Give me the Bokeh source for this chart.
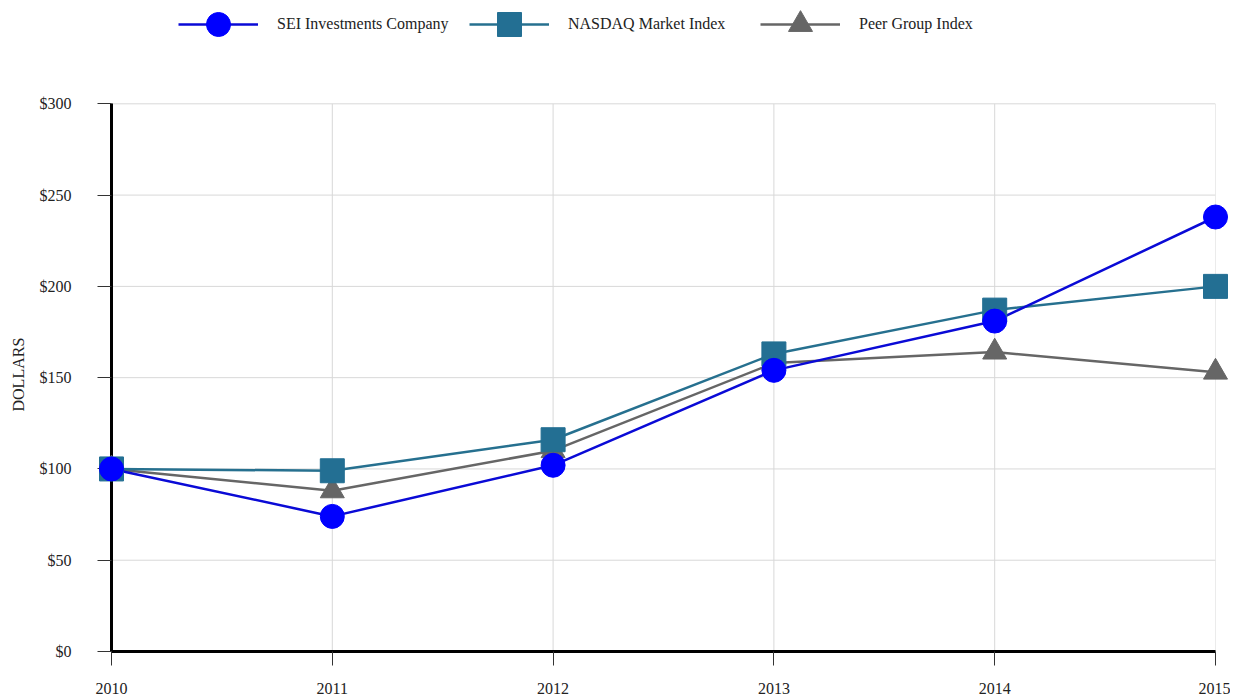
from bokeh.plotting import figure
from bokeh.models import (Range1d, FixedTicker, PrintfTickFormatter, Legend, LegendItem,
                          ColumnDataSource, Title)
from bokeh.embed import file_html
from bokeh.resources import INLINE

years = [2010, 2011, 2012, 2013, 2014, 2015]
sei = [100, 74, 102, 154, 181, 238]
nasdaq = [100, 99, 116, 163, 187, 200]
peer = [100, 88, 110, 158, 164, 153]
y_ticks = [0, 50, 100, 150, 200, 250, 300]

FONT = "Liberation Serif"

# layout (pixels)
W, H = 1230, 696
LEFT, RIGHT, BOTTOM = 111, 15, 47
FRAME_H = H - BOTTOM            # frame spans from the top of the figure
PLOT_H = 546                    # pixel height of the 0..300 region
y_top = y_ticks[-1] * FRAME_H / PLOT_H

p = figure(width=W, height=H, output_backend="svg", toolbar_location=None,
           x_range=Range1d(years[0], years[-1]), y_range=Range1d(0, y_top),
           min_border_left=LEFT, min_border_right=RIGHT, min_border_top=0,
           min_border_bottom=0)
p.outline_line_color = None
p.background_fill_color = "white"
p.xgrid.visible = False
p.ygrid.visible = False

# manual grid limited to the data region
GRID = "#d8d8d8"
p.segment(x0=years, y0=[y_ticks[0]] * len(years), x1=years, y1=[y_ticks[-1]] * len(years),
          line_color=GRID, line_width=1)
p.segment(x0=[years[0]] * len(y_ticks), y0=y_ticks, x1=[years[-1]] * len(y_ticks), y1=y_ticks,
          line_color=GRID, line_width=1)

# axes
p.xaxis.ticker = FixedTicker(ticks=years)
p.yaxis.ticker = FixedTicker(ticks=y_ticks)
p.yaxis.formatter = PrintfTickFormatter(format="$%d")
p.yaxis.bounds = (y_ticks[0], y_ticks[-1])
for ax in (p.xaxis[0], p.yaxis[0]):
    ax.axis_line_color = "black"
    ax.axis_line_width = 3
    ax.major_tick_line_color = "#333333"
    ax.major_tick_line_width = 1
    ax.major_tick_in = 0
    ax.major_tick_out = 14
    ax.minor_tick_line_color = None
    ax.major_label_text_font = FONT
    ax.major_label_text_font_size = "16px"
    ax.major_label_text_color = "#222222"
p.xaxis.major_label_standoff = 17
p.yaxis.major_label_standoff = 26

# y-axis title, centred on the 0..300 region
ytitle = Title(text="DOLLARS", align="left", offset=FRAME_H - 409,
               vertical_align="top",
               text_font=FONT, text_font_size="16px", text_font_style="normal",
               text_color="#222222", standoff=16)
p.add_layout(ytitle, "left")

series = [
    ("Peer Group Index", peer, "#666666", "#666666", "triangle"),
    ("NASDAQ Market Index", nasdaq, "#26708f", "#236f93", "square"),
    ("SEI Investments Company", sei, "#0a0ad6", "#0000ff", "circle"),
]
items = {}
for name, vals, lc, mc, marker in series:
    src = ColumnDataSource(dict(x=years, y=vals))
    lr = p.line("x", "y", source=src, line_color=lc, line_width=2.5)
    sr = p.scatter("x", "y", source=src, marker=marker, size=24,
                   fill_color=mc, line_color=mc, line_width=1, level="overlay")
    items[name] = LegendItem(label=name, renderers=[lr, sr])

legend = Legend(items=[items["SEI Investments Company"], items["NASDAQ Market Index"],
                       items["Peer Group Index"]],
                orientation="horizontal", location=(67, FRAME_H - 52),
                glyph_width=80, glyph_height=60, label_standoff=19, spacing=2,
                label_width=190,
                padding=0, margin=0, border_line_alpha=0, background_fill_alpha=0,
                label_text_font=FONT, label_text_font_size="16px",
                label_text_color="#222222")
p.add_layout(legend, "center")

open("out.html", "w").write(file_html(p, INLINE))
